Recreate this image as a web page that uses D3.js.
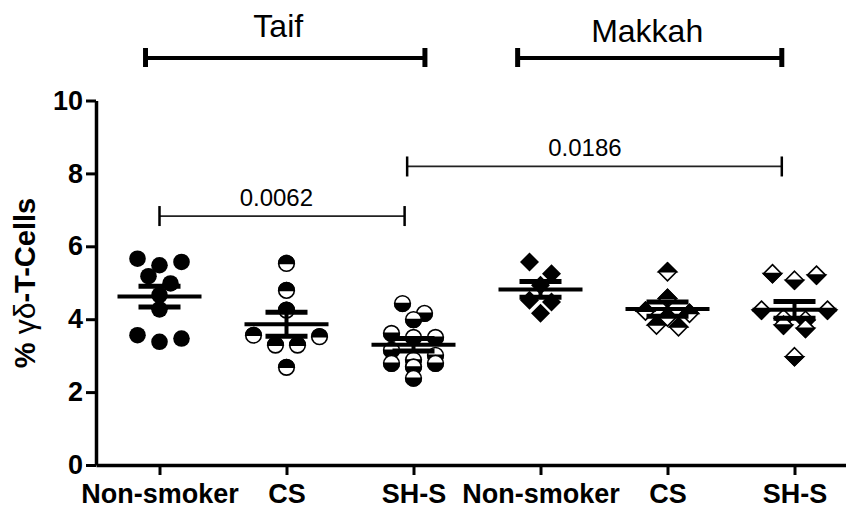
<!DOCTYPE html>
<html>
<head>
<meta charset="utf-8">
<script src="https://cdn.jsdelivr.net/npm/d3@7"></script>
<style>
  html, body { margin: 0; padding: 0; background: #fff; }
  svg { display: block; }
  text { font-family: "Liberation Sans", Arial, Helvetica, sans-serif; fill: #000; }
</style>
</head>
<body>
<svg id="chart" width="846" height="508"></svg>
<script>
// ---------------- data ----------------
const categories = ["Non-smoker", "CS", "SH-S", "Non-smoker", "CS", "SH-S"];
const regions = ["Taif", "Makkah"];
const yTickValues = [0, 2, 4, 6, 8, 10];
const taifNonSmoker = [5.48, 5.66, 5.57, 5.18, 4.98, 4.66, 4.27, 3.56, 3.38, 3.47];
const taifCS = [5.53, 4.79, 4.25, 3.56, 3.29, 3.29, 3.52, 2.68];
const taifSHS = [4.43, 4.16, 3.99, 3.50, 3.61, 3.50, 3.15, 3.01, 2.79, 2.88, 2.69, 2.79, 2.38];
const makkahNonSmoker = [5.57, 5.25, 4.93, 4.52, 4.47, 4.16];
const makkahCS = [5.30, 4.57, 4.06, 3.79, 3.84, 4.22, 4.16];
const makkahSHS = [5.25, 5.07, 5.21, 4.25, 4.25, 4.02, 3.84, 3.75, 3.97, 2.97];
const pValueLabels = ["0.0062", "0.0186"];

const groups = [taifNonSmoker, taifCS, taifSHS, makkahNonSmoker, makkahCS, makkahSHS];
const markerKinds = ["circleFull", "circleTop", "circleBottom", "diamondFull", "diamondTop", "diamondBottom"];

// ---------------- layout ----------------
const svg = d3.select("#chart");
const x = d3.scaleLinear().domain([-0.5, 5.5]).range([96, 858]);
const y = d3.scaleLinear().domain([0, 10]).range([465, 100.5]);
const FONT = '"Liberation Sans", Arial, Helvetica, sans-serif';

// ---------------- axes ----------------
const yAxis = svg.append("g").attr("transform", `translate(${x(-0.5)},0)`)
  .call(d3.axisLeft(y).tickValues(yTickValues).tickSize(10).tickSizeOuter(0).tickPadding(3).tickFormat(d3.format("d")));
yAxis.select(".domain").attr("stroke", "#000").attr("stroke-width", 3.5);
yAxis.selectAll(".tick line").attr("stroke", "#000").attr("stroke-width", 3);
yAxis.selectAll(".tick text").style("font-family", FONT).style("font-weight", "bold")
  .style("font-size", "27px").attr("fill", "#000");

const xAxis = svg.append("g").attr("transform", `translate(0,${y(0)})`)
  .call(d3.axisBottom(x).tickValues(d3.range(categories.length)).tickSize(10).tickSizeOuter(0)
    .tickFormat(i => categories[i]));
xAxis.select(".domain").attr("stroke", "#000").attr("stroke-width", 3.5);
xAxis.selectAll(".tick line").attr("stroke", "#000").attr("stroke-width", 3);
xAxis.selectAll(".tick text").style("font-family", FONT).style("font-weight", "bold")
  .style("font-size", "27px").attr("fill", "#000").attr("y", 38).attr("dy", 0);

// y title
const yTitle = svg.append("text")
  .attr("transform", `translate(35,283) rotate(-90)`)
  .attr("text-anchor", "middle")
  .style("font-size", "29px").style("font-weight", "bold");
yTitle.append("tspan").text("% ");
yTitle.append("tspan").style("font-weight", "normal").style("font-size", "30px").text("γδ");
yTitle.append("tspan").text("-T-Cells");

// ---------------- swarm offsets ----------------
const pxPerUnit = y(0) - y(1);
function swarm(values, rowPx, spacing) {
  const sorted = values.map((v, i) => ({ v, i })).sort((a, b) => b.v - a.v);
  const rows = [];
  sorted.forEach(d => {
    const row = rows[rows.length - 1];
    if (row && (row[0].v - d.v) * pxPerUnit <= rowPx) row.push(d);
    else rows.push([d]);
  });
  const out = [];
  rows.forEach(row => {
    const n = row.length;
    const slots = d3.range(n).map(k => (k - (n - 1) / 2) * spacing);
    const order = [];
    let lo = 0, hi = n - 1;
    while (lo <= hi) { order.push(lo++); if (lo <= hi) order.push(hi--); }
    row.forEach((d, k) => out.push({ v: d.v, dx: slots[order[k]] }));
  });
  return out;
}

// ---------------- markers ----------------
const R = 7.8, H = 9;
function drawMarker(g, kind) {
  if (kind.startsWith("circle")) {
    if (kind === "circleFull") {
      g.append("circle").attr("r", R + 0.5).attr("fill", "#000");
    } else {
      g.append("circle").attr("r", R).attr("fill", "#fff").attr("stroke", "#000").attr("stroke-width", 1.6);
      const top = kind === "circleTop";
      g.append("path").attr("d", `M${-R},0 A${R},${R} 0 0 ${top ? 1 : 0} ${R},0 Z`)
        .attr("fill", "#000").attr("stroke", "#000").attr("stroke-width", 1.6);
    }
  } else {
    const dPath = `M0,${-H} L${H},0 L0,${H} L${-H},0 Z`;
    if (kind === "diamondFull") {
      g.append("path").attr("d", `M0,${-H - 0.5} L${H + 0.5},0 L0,${H + 0.5} L${-H - 0.5},0 Z`).attr("fill", "#000");
    } else {
      g.append("path").attr("d", dPath).attr("fill", "#fff").attr("stroke", "#000").attr("stroke-width", 1.6)
        .attr("stroke-linejoin", "miter");
      const top = kind === "diamondTop";
      g.append("path").attr("d", top ? `M${-H},0 L0,${-H} L${H},0 Z` : `M${-H},0 L0,${H} L${H},0 Z`)
        .attr("fill", "#000").attr("stroke", "#000").attr("stroke-width", 1.6).attr("stroke-linejoin", "miter");
    }
  }
}

const pts = svg.append("g");
groups.forEach((vals, gi) => {
  swarm(vals, 12, 22).forEach(p => {
    const g = pts.append("g").attr("transform", `translate(${x(gi) + p.dx},${y(p.v)})`);
    drawMarker(g, markerKinds[gi]);
  });
});

// ---------------- mean and SEM ----------------
const stats = svg.append("g");
groups.forEach((vals, gi) => {
  const m = d3.mean(vals);
  const sem = d3.deviation(vals) / Math.sqrt(vals.length);
  const cx = x(gi);
  stats.append("line").attr("x1", cx - 42).attr("x2", cx + 42).attr("y1", y(m)).attr("y2", y(m))
    .attr("stroke", "#000").attr("stroke-width", 4);
  stats.append("line").attr("x1", cx).attr("x2", cx).attr("y1", y(m - sem)).attr("y2", y(m + sem))
    .attr("stroke", "#000").attr("stroke-width", 4);
  [m - sem, m + sem].forEach(v => {
    stats.append("line").attr("x1", cx - 21).attr("x2", cx + 21).attr("y1", y(v)).attr("y2", y(v))
      .attr("stroke", "#000").attr("stroke-width", 5);
  });
});

// ---------------- significance brackets ----------------
const sig = [
  { from: 0, to: 1.93, level: 6.83, labelAt: 0.92, text: pValueLabels[0] },
  { from: 1.95, to: 4.9, level: 8.19, labelAt: 3.35, text: pValueLabels[1] }
];
const sg = svg.append("g");
sig.forEach(s => {
  const yy = y(s.level);
  sg.append("line").attr("x1", x(s.from)).attr("x2", x(s.to)).attr("y1", yy).attr("y2", yy)
    .attr("stroke", "#222").attr("stroke-width", 1.8);
  [s.from, s.to].forEach(e => sg.append("line").attr("x1", x(e)).attr("x2", x(e))
    .attr("y1", yy - 10).attr("y2", yy + 10).attr("stroke", "#000").attr("stroke-width", 2.5));
  sg.append("text").attr("x", x(s.labelAt)).attr("y", yy - 10).attr("text-anchor", "middle")
    .style("font-size", "24px").text(s.text);
});

// ---------------- region brackets ----------------
const regionSpans = [
  { from: -0.11, to: 2.09, labelAt: 0.935, baseline: 37 },
  { from: 2.82, to: 4.9, labelAt: 3.84, baseline: 41.5 }
];
const rg = svg.append("g");
regionSpans.forEach((r, i) => {
  const yy = 58;
  rg.append("line").attr("x1", x(r.from)).attr("x2", x(r.to)).attr("y1", yy).attr("y2", yy)
    .attr("stroke", "#000").attr("stroke-width", 4);
  [r.from, r.to].forEach(e => rg.append("line").attr("x1", x(e)).attr("x2", x(e))
    .attr("y1", yy - 10).attr("y2", yy + 9).attr("stroke", "#000").attr("stroke-width", 5));
  rg.append("text").attr("x", x(r.labelAt)).attr("y", r.baseline).attr("text-anchor", "middle")
    .style("font-size", "32px").text(regions[i]);
});
</script>
</body>
</html>
